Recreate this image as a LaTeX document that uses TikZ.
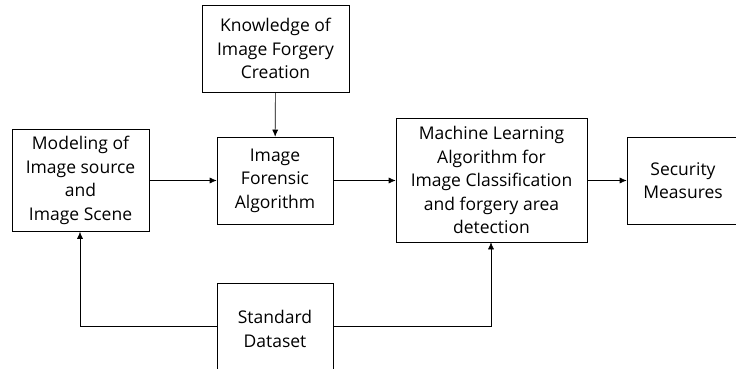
\documentclass[tikz,border=0pt]{standalone}
\usepackage{fontspec}
\setmainfont{Open Sans}
\usetikzlibrary{arrows.meta}
\tikzset{
  block/.style={draw,line width=0.6pt,align=center,inner sep=2pt,
    font=\fontsize{17.5}{23.5}\selectfont},
  flow/.style={-{Latex[length=7pt,width=6pt]},line width=0.6pt}
}
\begin{document}
\begin{tikzpicture}[x=1pt,y=-1pt]
\useasboundingbox (0,0) rectangle (736,369);
\clip (0,0) rectangle (736,369);
%\draw[very thin,color=gray,step=20] (0,0) grid (736,369);
\node[block,minimum width=147,minimum height=87] (know) at (275.5,48.5) {Knowledge of\\Image Forgery\\Creation};
\node[block,minimum width=116,minimum height=87] (forensic) at (275,180.5) {Image\\Forensic\\Algorithm};
\node[block,minimum width=137,minimum height=102] (model) at (80.5,180.5) {Modeling of\\Image source\\and\\Image Scene};
\node[block,minimum width=191,minimum height=124] (ml) at (491.5,180) {Machine Learning\\Algorithm for\\Image Classification\\and forgery area\\detection};
\node[block,minimum width=112,minimum height=87] (sec) at (683,180.5) {Security\\Measures};
\node[block,minimum width=116,minimum height=92] (data) at (275,329) {Standard\\Dataset};
\coordinate (dl) at (80,326);
\coordinate (dr) at (491,326);
\draw[flow] (know) -- (forensic);
\draw[flow] (model.east |- forensic) -- (forensic.west);
\draw[flow] (forensic.east) -- (ml.west |- forensic);
\draw[flow] (ml.east |- sec) -- (sec.west);
\draw[flow] (data.west |- dl) -- (dl) -- (model.south -| dl);
\draw[flow] (data.east |- dr) -- (dr) -- (ml.south -| dr);
\end{tikzpicture}
\end{document}
